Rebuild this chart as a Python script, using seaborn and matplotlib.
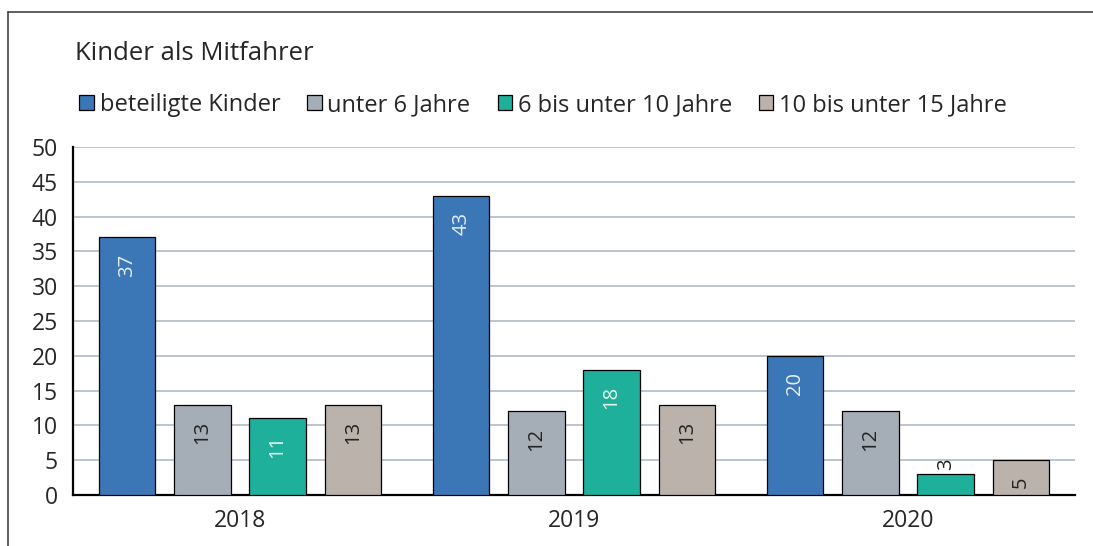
import matplotlib
matplotlib.use("Agg")
import matplotlib.pyplot as plt
import seaborn as sns
import pandas as pd
from matplotlib.lines import Line2D
from matplotlib.patches import Patch

# --- Daten ---
jahre = ["2018", "2019", "2020"]
gruppen = ["beteiligte Kinder", "unter 6 Jahre", "6 bis unter 10 Jahre", "10 bis unter 15 Jahre"]
beteiligte = [37, 43, 20]
unter6 = [13, 12, 12]
sechs_bis_10 = [11, 18, 3]
zehn_bis_15 = [13, 13, 5]
farben = ["#3b77b7", "#a5adb6", "#1eb09a", "#bab2ab"]
textfarben = ["#e6edf5", "#222222", "#e6f5f0", "#222222"]

werte = [beteiligte, unter6, sechs_bis_10, zehn_bis_15]
df = pd.DataFrame({
    "Jahr": [j for w in werte for j in jahre],
    "Gruppe": [g for g, w in zip(gruppen, werte) for _ in w],
    "Anzahl": [v for w in werte for v in w],
})

sns.set_style("white")
plt.rcParams["font.family"] = ["Open Sans", "DejaVu Sans"]

fig = plt.figure(figsize=(10.93, 5.46), dpi=100)
ax = fig.add_axes([73 / 1093, 1 - 495 / 546, (1075 - 73) / 1093, (495 - 147) / 546])

sns.barplot(data=df, x="Jahr", y="Anzahl", hue="Gruppe", order=jahre, hue_order=gruppen,
            palette=farben, saturation=1, width=0.9, gap=0.25, edgecolor="black",
            linewidth=0.9, legend=False, ax=ax, zorder=3)

ax.set_ylim(0, 50)
ax.set_xlim(-0.5, 2.5)
ax.set_yticks(range(0, 51, 5))
ax.grid(axis="y", color="#a9b4c4", linewidth=1.1, zorder=0)
ax.set_axisbelow(True)
for s in ["top", "right"]:
    ax.spines[s].set_visible(False)
ax.spines["left"].set_linewidth(1.6)
ax.spines["bottom"].set_linewidth(1.6)
ax.spines["left"].set_color("black")
ax.spines["bottom"].set_color("black")

ax.set_xticks([-0.5, 0.5, 1.5, 2.5])
ax.set_xticklabels([])
ax.set_xticks([0, 1, 2], minor=True)
ax.set_xticklabels(jahre, minor=True, fontsize=16.5)
ax.tick_params(axis="x", which="major", length=10, width=1.6, direction="out", color="black")
ax.tick_params(axis="x", which="minor", length=0, pad=10)
ax.tick_params(axis="y", length=7, width=1.6, direction="out", color="black", labelsize=16.5, pad=4)
ax.set_xlabel("")
ax.set_ylabel("")

# Werte in den Balken (von unten nach oben gedreht)
for cont, tf in zip(ax.containers, textfarben):
    for bar in cont:
        h = bar.get_height()
        xc = bar.get_x() + bar.get_width() / 2
        if h >= 5:
            ax.annotate(f"{h:.0f}", (xc, h), xytext=(0, -11.5), textcoords="offset points",
                        rotation=90, ha="center", va="top", fontsize=14.5, color=tf, zorder=5)
        else:
            ax.annotate(f"{h:.0f}", (xc, h), xytext=(0, 3), textcoords="offset points",
                        rotation=90, ha="center", va="bottom", fontsize=14.5, color="#222222", zorder=5)

fig.text(75 / 1093, 1 - 53 / 546, "Kinder als Mitfahrer", fontsize=18.5, va="center", ha="left")

handles = [Patch(facecolor=c, edgecolor="black", linewidth=0.9) for c in farben]
fig.legend(handles, gruppen, loc="center left", bbox_to_anchor=(70 / 1093, 1 - 105 / 546),
           ncol=4, frameon=False, fontsize=17, handlelength=0.6, handleheight=0.6,
           handletextpad=0.25, columnspacing=1.15, borderaxespad=0)

# Rahmen
fig.add_artist(Line2D([8 / 1093, 8 / 1093], [0, 1 - 12 / 546], transform=fig.transFigure,
                      color="#444444", linewidth=1.2))
fig.add_artist(Line2D([8 / 1093, 1], [1 - 12 / 546, 1 - 12 / 546], transform=fig.transFigure,
                      color="#444444", linewidth=1.2))

fig.savefig("out.png", dpi=100)
